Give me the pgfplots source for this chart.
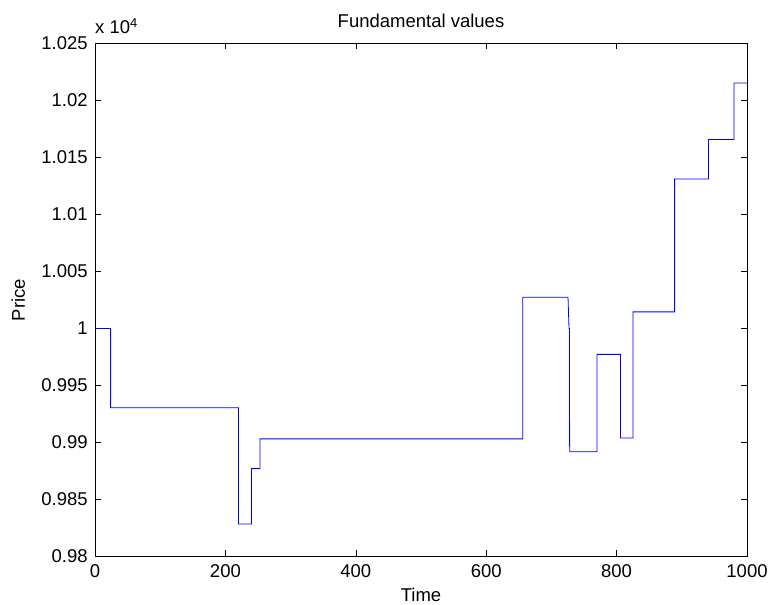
\documentclass[border=0pt]{standalone}
\usepackage{pgfplots}
\pgfplotsset{compat=1.18}
\usepackage{fontspec}
\setmainfont{Liberation Sans}
\begin{document}
\fontsize{18.5}{22}\selectfont
\begin{tikzpicture}
\useasboundingbox (0pt,0pt) rectangle (771pt,605pt);
\begin{axis}[
  at={(95pt,48.5pt)}, anchor=south west,
  width=652pt, height=513pt, scale only axis,
  xmin=0, xmax=1000, ymin=0.98, ymax=1.025,
  xtick={0,200,400,600,800,1000},
  ytick={0.98,0.985,0.99,0.995,1,1.005,1.01,1.015,1.02,1.025},
  tick align=inside,
  major tick length=6pt,
  xtick pos=both, ytick pos=both,
  /pgf/number format/assume math mode=true,
  /pgf/number format/1000 sep={},
  yticklabel style={/pgf/number format/fixed,/pgf/number format/precision=3, font=\fontsize{18.5}{22}\selectfont, xshift=-1pt},
  xticklabel style={font=\fontsize{18.5}{22}\selectfont, yshift=-2pt},
  scaled y ticks=false,
  axis line style={black, line width=0.8pt},
  tick style={black, line width=0.6pt},
  clip=false,
]
\addplot[color={rgb,255:red,0;green,0;blue,255}, line width=0.8pt] coordinates {
(0,1.0) (24,1.0) (24,0.99304) (220,0.99304) (220,0.98285) (240,0.98285)
(240,0.98771) (253,0.98771) (253,0.99032) (656,0.99032) (656,1.00274)
(725.5,1.00274) (727,1.0) (727.6,1.0) (728,0.98919) (770,0.98919)
(770,0.99773) (806,0.99773) (806,0.9904) (825,0.9904) (825,1.00146)
(889,1.00146) (889,1.01312) (941,1.01312) (941,1.01658) (980,1.01658)
(980,1.02154) (1000,1.02154)
};
\node[anchor=base west, inner sep=0pt] at ([yshift=10pt]rel axis cs:0,1) {x 10\textsuperscript{4}};
\node[anchor=base, inner sep=0pt] at ([yshift=16pt]rel axis cs:0.5,1) {Fundamental values};
\node[anchor=base, inner sep=0pt] at ([yshift=-45pt]rel axis cs:0.5,0) {Time};
\node[anchor=base, rotate=90, inner sep=0pt] at ([xshift=-70pt]rel axis cs:0,0.5) {Price};
\end{axis}
\end{tikzpicture}
\end{document}
